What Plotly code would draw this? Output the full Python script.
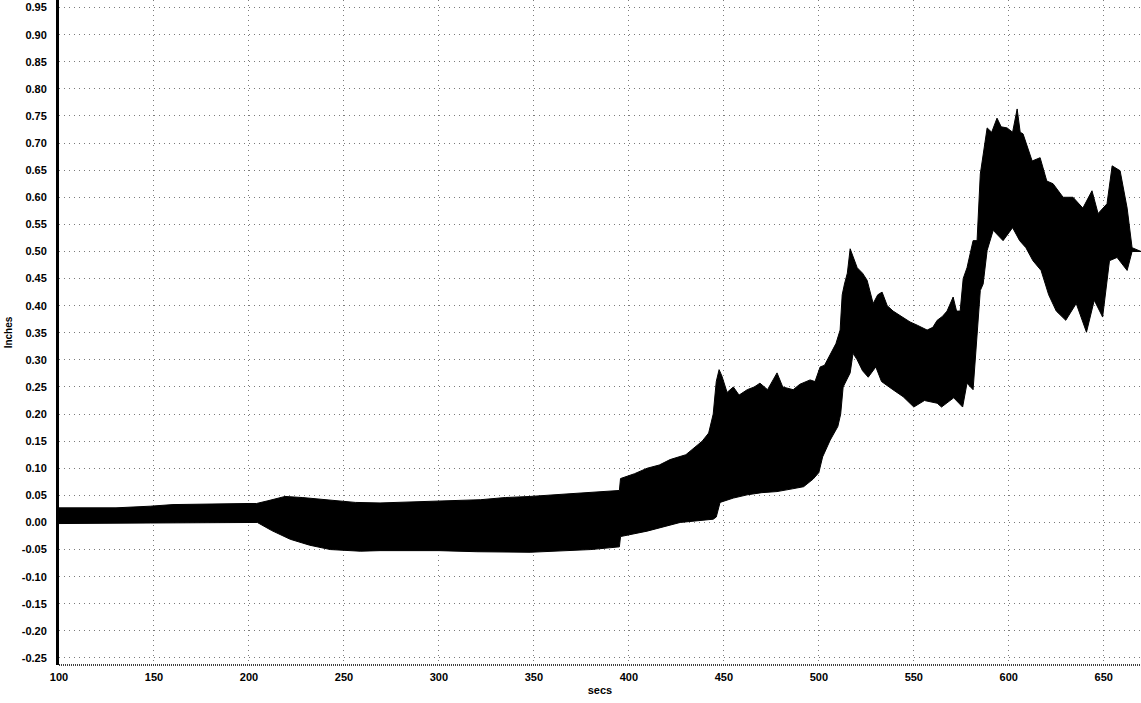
import plotly.graph_objects as go

# Upper envelope of the displacement trace (secs, inches)
upper_x = [100, 130, 148, 160, 200, 204, 210, 219, 228, 245, 256, 269, 300, 322, 335, 348, 369, 395,
           395.6, 403, 409.6, 416, 421.7, 430, 438.6, 442, 444.4, 446, 447.5, 449, 451.7, 455, 458,
           462.3, 466, 469, 473, 478, 481, 486.5, 490, 495.4, 498, 500.7, 503, 506, 509, 511.2, 512.3,
           513.5, 515, 516.5, 518, 520.2, 523, 525.4, 528.6, 531, 533.3, 536, 539.1, 544.4, 548, 551.8,
           557, 560, 562.3, 565, 567.5, 570.7, 572.5, 574.4, 576, 578, 581.2, 583.3, 585, 588.6, 591,
           593.8, 596, 599.1, 602, 604.4, 606, 607.5, 612.3, 616.5, 620, 623.3, 628.6, 633.8, 639,
           643.8, 647, 651.7, 654.4, 658.6, 662.3, 664.9, 669.6]
upper_y = [0.027, 0.027, 0.030, 0.033, 0.035, 0.035, 0.040, 0.048, 0.046, 0.040, 0.037, 0.036, 0.039,
           0.042, 0.046, 0.048, 0.053, 0.059, 0.081, 0.090, 0.100, 0.106, 0.116, 0.125, 0.150, 0.165,
           0.200, 0.260, 0.282, 0.270, 0.240, 0.250, 0.235, 0.245, 0.250, 0.257, 0.245, 0.276, 0.250,
           0.245, 0.255, 0.263, 0.260, 0.287, 0.290, 0.310, 0.330, 0.355, 0.420, 0.440, 0.460, 0.505,
           0.490, 0.470, 0.460, 0.447, 0.404, 0.420, 0.425, 0.400, 0.390, 0.379, 0.370, 0.364, 0.355,
           0.360, 0.373, 0.380, 0.390, 0.416, 0.390, 0.390, 0.450, 0.470, 0.520, 0.520, 0.643, 0.728,
           0.720, 0.746, 0.730, 0.728, 0.720, 0.763, 0.720, 0.717, 0.667, 0.673, 0.630, 0.625, 0.600,
           0.600, 0.580, 0.612, 0.570, 0.588, 0.658, 0.649, 0.580, 0.507, 0.500]

# Lower envelope of the displacement trace (secs, inches)
lower_x = [100, 148, 200, 204.4, 212, 221.7, 232, 242.8, 258.6, 269, 300, 320, 348, 369, 380, 395,
           395.6, 409.6, 427, 444.4, 446, 448, 455, 462.3, 470, 478, 486, 492, 497, 500, 502, 506, 510,
           511.5, 512.8, 516.5, 518, 520.2, 523, 526, 530, 533, 539, 544.4, 550, 555.6, 562.3, 564.6,
           571, 575.7, 578, 581.2, 583.3, 585, 586.5, 588.6, 591.8, 597, 602, 605.7, 609, 612.7, 617,
           621, 625, 630, 635.5, 640.9, 645, 649.4, 653, 657, 662.3, 664.9, 669.6]
lower_y = [-0.002, -0.001, 0.000, 0.000, -0.015, -0.031, -0.042, -0.050, -0.053, -0.052, -0.052,
           -0.054, -0.055, -0.052, -0.050, -0.045, -0.026, -0.016, 0.000, 0.006, 0.010, 0.037, 0.045,
           0.051, 0.055, 0.057, 0.062, 0.066, 0.080, 0.092, 0.121, 0.152, 0.177, 0.200, 0.250, 0.276,
           0.312, 0.300, 0.280, 0.268, 0.287, 0.260, 0.245, 0.232, 0.213, 0.225, 0.220, 0.213, 0.230,
           0.213, 0.257, 0.245, 0.349, 0.428, 0.440, 0.502, 0.539, 0.520, 0.544, 0.520, 0.507, 0.483,
           0.465, 0.420, 0.390, 0.373, 0.404, 0.351, 0.410, 0.379, 0.483, 0.489, 0.465, 0.500, 0.500]

x_ticks = [100, 150, 200, 250, 300, 350, 400, 450, 500, 550, 600, 650]
y_ticks = [-0.25, -0.20, -0.15, -0.10, -0.05, 0.00, 0.05, 0.10, 0.15, 0.20, 0.25, 0.30, 0.35, 0.40,
           0.45, 0.50, 0.55, 0.60, 0.65, 0.70, 0.75, 0.80, 0.85, 0.90, 0.95]
y_labels = ["%.2f" % v for v in y_ticks]

poly_x = upper_x + lower_x[::-1]
poly_y = upper_y + lower_y[::-1]

fig = go.Figure()
fig.add_trace(go.Scatter(x=poly_x, y=poly_y, mode="lines", fill="toself",
                         fillcolor="black", line=dict(color="black", width=1),
                         hoverinfo="skip", showlegend=False))

tick_font = dict(family="Liberation Sans", size=11, color="black", weight="bold")
fig.update_layout(
    width=1141, height=703,
    margin=dict(l=59, r=0, t=0, b=38),
    plot_bgcolor="white", paper_bgcolor="white",
    showlegend=False,
    xaxis=dict(range=[100, 669.6], tickvals=x_ticks, ticktext=[str(v) for v in x_ticks],
               tickfont=tick_font, showgrid=True, gridcolor="#7a7a7a", griddash="1px,4px", gridwidth=1,
               zeroline=False, showline=False, ticks="", ticklabelstandoff=4,
               title=dict(text="secs", font=dict(family="Liberation Sans", size=11, color="black",
                                                 weight="bold"), standoff=4)),
    yaxis=dict(range=[-0.263, 0.964], tickvals=y_ticks, ticktext=y_labels,
               tickfont=tick_font, showgrid=True, gridcolor="#7a7a7a", griddash="1px,4px", gridwidth=1,
               zeroline=False, showline=True, linecolor="black", linewidth=3, ticks="",
               ticklabelstandoff=7,
               title=dict(text="Inches", font=dict(family="Liberation Sans", size=10, color="black",
                                                   weight="bold"), standoff=8)),
    shapes=[dict(type="line", xref="paper", yref="paper", x0=0, x1=1, y0=0, y1=0,
                 line=dict(color="black", width=1.5, dash="1px,1px"))],
)

fig.write_html("out.html")
